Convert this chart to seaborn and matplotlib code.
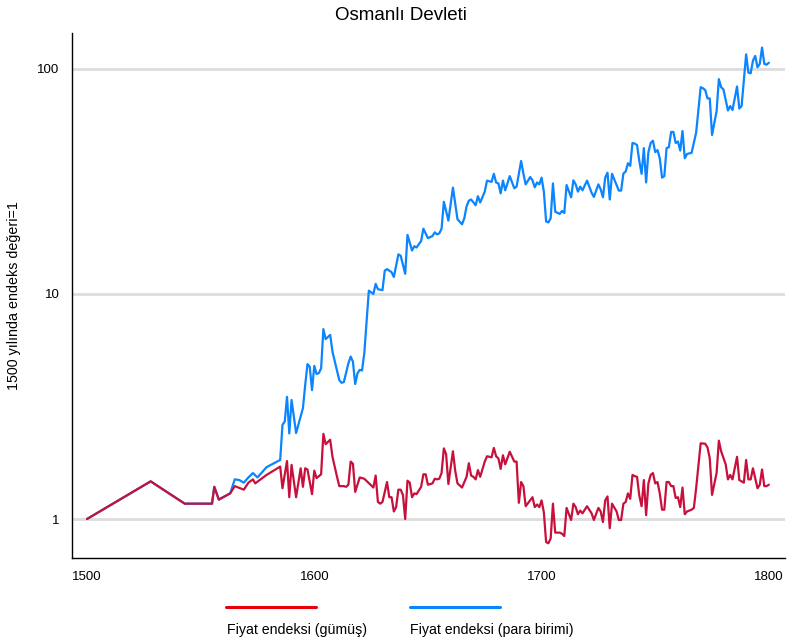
import numpy as np
import pandas as pd
import matplotlib
matplotlib.use("Agg")
import matplotlib.pyplot as plt
from matplotlib.lines import Line2D
from matplotlib.ticker import FixedLocator, NullLocator, FixedFormatter
import seaborn as sns

# Fiyat endeksi (gümüş)
silver_years = [1500, 1528, 1543, 1555, 1556, 1558, 1563, 1565, 1569, 1571, 1573, 1574, 1576, 1579,
                1585, 1586, 1588, 1589, 1590, 1592, 1594, 1595, 1596, 1597, 1599, 1600, 1601, 1603,
                1604, 1605, 1607, 1608, 1610, 1611, 1613, 1614, 1615, 1616, 1617, 1618, 1620, 1622,
                1626, 1627, 1628, 1629, 1630, 1632, 1633, 1634, 1635, 1636, 1637, 1638, 1639, 1640,
                1641, 1642, 1643, 1644, 1645, 1646, 1647, 1648, 1649, 1650, 1652, 1653, 1654, 1655,
                1656, 1657, 1658, 1659, 1661, 1662, 1663, 1665, 1667, 1668, 1669, 1670, 1671, 1672,
                1673, 1675, 1676, 1678, 1679, 1680, 1681, 1682, 1683, 1684, 1686, 1688, 1689, 1690,
                1691, 1692, 1693, 1696, 1697, 1698, 1699, 1700, 1701, 1702, 1703, 1704, 1705, 1706,
                1708, 1709, 1710, 1711, 1713, 1714, 1715, 1716, 1717, 1718, 1720, 1722, 1723, 1725,
                1726, 1727, 1728, 1729, 1730, 1731, 1733, 1734, 1735, 1736, 1737, 1738, 1739, 1740,
                1741, 1742, 1743, 1744, 1745, 1746, 1747, 1748, 1749, 1750, 1751, 1752, 1753, 1754,
                1755, 1756, 1757, 1758, 1759, 1760, 1761, 1762, 1763, 1764, 1766, 1767, 1768, 1770,
                1772, 1773, 1774, 1775, 1777, 1778, 1779, 1781, 1782, 1783, 1784, 1786, 1787, 1789,
                1790, 1791, 1792, 1793, 1795, 1796, 1797, 1798, 1799, 1800]
silver_index = [1.00, 1.47, 1.17, 1.17, 1.39, 1.22, 1.30, 1.40, 1.35, 1.45, 1.50, 1.44, 1.49, 1.57,
                1.71, 1.37, 1.81, 1.25, 1.74, 1.25, 1.68, 1.39, 1.68, 1.66, 1.29, 1.64, 1.52, 1.58,
                2.39, 2.15, 2.25, 1.89, 1.54, 1.40, 1.40, 1.39, 1.42, 1.80, 1.76, 1.32, 1.53, 1.51,
                1.38, 1.56, 1.19, 1.17, 1.19, 1.46, 1.25, 1.25, 1.08, 1.13, 1.35, 1.35, 1.28, 1.00,
                1.48, 1.45, 1.25, 1.30, 1.29, 1.34, 1.39, 1.58, 1.58, 1.42, 1.44, 1.51, 1.50, 1.51,
                1.60, 2.06, 1.94, 1.43, 2.00, 1.64, 1.44, 1.38, 1.54, 1.77, 1.56, 1.54, 1.50, 1.65,
                1.54, 1.80, 1.90, 1.88, 2.07, 1.90, 1.86, 1.67, 1.92, 1.75, 1.99, 1.80, 1.80, 1.18,
                1.46, 1.40, 1.14, 1.25, 1.13, 1.16, 1.13, 1.21, 1.07, 0.79, 0.78, 0.82, 1.17, 0.87,
                0.87, 0.86, 0.84, 1.12, 0.99, 1.17, 1.13, 1.05, 1.09, 1.06, 1.14, 1.06, 0.99, 1.12,
                1.08, 0.97, 1.21, 1.26, 0.91, 1.17, 1.08, 0.99, 0.99, 1.17, 1.19, 1.30, 1.23, 1.57,
                1.55, 1.54, 1.27, 1.14, 1.49, 1.04, 1.44, 1.57, 1.60, 1.44, 1.46, 1.30, 1.10, 1.10,
                1.46, 1.46, 1.40, 1.40, 1.24, 1.25, 1.13, 1.38, 1.05, 1.08, 1.10, 1.12, 1.37, 2.17,
                2.16, 2.08, 1.86, 1.28, 1.60, 2.23, 2.00, 1.75, 1.50, 1.57, 1.50, 1.89, 1.49, 1.45,
                1.83, 1.50, 1.50, 1.68, 1.37, 1.42, 1.66, 1.40, 1.40, 1.42]

# Fiyat endeksi (para birimi)
currency_years = [1500, 1528, 1543, 1555, 1556, 1558, 1563, 1565, 1567, 1569, 1571, 1573, 1575, 1579,
                  1585, 1586, 1587, 1588, 1589, 1590, 1592, 1594, 1595, 1596, 1597, 1598, 1599, 1600,
                  1601, 1602, 1603, 1604, 1605, 1607, 1608, 1611, 1612, 1613, 1615, 1616, 1617, 1618,
                  1619, 1620, 1621, 1622, 1624, 1626, 1627, 1628, 1630, 1631, 1632, 1634, 1635, 1637,
                  1638, 1640, 1641, 1643, 1644, 1645, 1647, 1648, 1650, 1652, 1653, 1654, 1655, 1656,
                  1657, 1659, 1661, 1663, 1665, 1666, 1667, 1668, 1669, 1671, 1672, 1673, 1675, 1676,
                  1678, 1679, 1680, 1681, 1682, 1683, 1684, 1686, 1688, 1689, 1691, 1692, 1693, 1695,
                  1696, 1697, 1698, 1699, 1700, 1701, 1702, 1703, 1704, 1705, 1706, 1708, 1709, 1710,
                  1711, 1713, 1714, 1715, 1716, 1717, 1718, 1720, 1722, 1723, 1725, 1726, 1727, 1728,
                  1729, 1730, 1731, 1733, 1734, 1735, 1736, 1737, 1738, 1739, 1740, 1741, 1742, 1743,
                  1744, 1745, 1746, 1747, 1748, 1749, 1750, 1751, 1752, 1753, 1754, 1755, 1756, 1757,
                  1758, 1759, 1760, 1761, 1762, 1763, 1764, 1766, 1768, 1770, 1771, 1772, 1773, 1774,
                  1775, 1777, 1778, 1779, 1780, 1782, 1783, 1784, 1785, 1786, 1787, 1788, 1790, 1791,
                  1792, 1793, 1794, 1795, 1796, 1797, 1798, 1799, 1800]
currency_index = [1.00, 1.47, 1.17, 1.17, 1.39, 1.22, 1.30, 1.50, 1.49, 1.45, 1.53, 1.60, 1.53, 1.70,
                  1.83, 2.62, 2.71, 3.49, 2.40, 3.38, 2.41, 2.85, 3.11, 3.94, 4.88, 4.75, 3.74, 4.79,
                  4.41, 4.45, 4.67, 6.98, 6.30, 6.58, 5.54, 4.14, 4.03, 4.06, 4.92, 5.27, 5.00, 3.98,
                  4.44, 4.60, 4.57, 5.45, 10.35, 10.0, 11.1, 10.5, 10.4, 12.7, 12.9, 12.5, 11.9, 15.0,
                  14.8, 12.3, 18.3, 15.6, 16.3, 16.1, 17.2, 19.5, 17.7, 18.1, 18.8, 18.4, 18.6, 19.5,
                  25.7, 21.2, 29.7, 21.5, 20.4, 21.7, 24.5, 26.0, 26.3, 24.8, 27.2, 25.5, 28.5, 31.9,
                  31.5, 34.2, 31.3, 31.0, 28.0, 31.9, 28.9, 33.4, 29.5, 30.0, 39.0, 34.3, 30.7, 33.1,
                  32.0, 29.8, 31.3, 30.7, 32.9, 28.5, 21.0, 20.8, 21.7, 31.0, 23.2, 22.7, 23.4, 22.9,
                  30.5, 26.9, 32.0, 30.7, 28.5, 30.0, 28.9, 31.9, 28.2, 27.0, 30.7, 29.2, 26.9, 32.9,
                  34.6, 26.3, 34.2, 30.5, 28.8, 28.8, 34.3, 35.0, 38.1, 37.1, 46.9, 46.6, 45.9, 39.0,
                  34.2, 44.5, 31.3, 42.7, 46.9, 48.0, 42.7, 43.6, 40.1, 32.9, 33.4, 44.5, 44.9, 52.5,
                  52.5, 46.9, 47.6, 43.4, 53.0, 40.1, 41.9, 42.4, 52.1, 83.0, 82.1, 80.5, 74.0, 74.0,
                  50.9, 64.9, 90.1, 83.0, 81.2, 65.4, 68.4, 65.7, 74.0, 83.6, 66.7, 68.4, 116.1, 96.3,
                  95.7, 108.9, 114.3, 101.7, 105.4, 124.5, 105.4, 104.5, 106.6]

x_ticks = [1500, 1600, 1700, 1800]
y_ticks = [1, 10, 100]
y_tick_labels = ["1", "10", "100"]

silver_df = pd.DataFrame({"yil": silver_years, "endeks": silver_index})
currency_df = pd.DataFrame({"yil": currency_years, "endeks": currency_index})

sns.set_style("white")
plt.rcParams["font.family"] = ["Liberation Sans", "DejaVu Sans"]
plt.rcParams["text.color"] = "black"

blue = "#0a84ff"
crimson = "#c8103c"
legend_red = "#e8000b"

fig = plt.figure(figsize=(7.87, 6.41), dpi=100)
ax = fig.add_axes([72 / 787, 1 - 558 / 641, (785 - 72) / 787, (558 - 33) / 641])

sns.lineplot(data=currency_df, x="yil", y="endeks", color=blue, lw=1.6, ax=ax)
sns.lineplot(data=silver_df, x="yil", y="endeks", color=crimson, lw=1.6, ax=ax)

ax.set_yscale("log")
ax.set_ylim(0.671, 144.5)
ax.set_xlim(1493.4, 1807.1)
ax.yaxis.set_major_locator(FixedLocator(y_ticks))
ax.yaxis.set_major_formatter(FixedFormatter(y_tick_labels))
ax.yaxis.set_minor_locator(NullLocator())
ax.set_xticks(x_ticks)
ax.set_xticklabels([str(t) for t in x_ticks])

ax.grid(axis="y", color="#dddddd", lw=2.0)
ax.grid(axis="x", visible=False)
ax.set_axisbelow(True)
for s in ["top", "right"]:
    ax.spines[s].set_visible(False)
for s in ["left", "bottom"]:
    ax.spines[s].set_color("black")
    ax.spines[s].set_linewidth(1.0)
ax.tick_params(axis="both", which="major", direction="out", length=5, width=0.9,
               color="black", labelsize=9.5, labelcolor="black", pad=4)

ax.set_xlabel("")
ax.set_ylabel("1500 yılında endeks değeri=1", fontsize=10.3, labelpad=12, color="black")

# title centred on the figure, as in the original
fig.text(401 / 787, 1 - 15 / 641, "Osmanlı Devleti", fontsize=13.5, ha="center", va="center",
         color="black")

# legend below the plot: line above label
fig.add_artist(Line2D([226 / 787, 316 / 787], [1 - 607 / 641] * 2, color=legend_red, lw=2.2))
fig.add_artist(Line2D([410 / 787, 500 / 787], [1 - 607 / 641] * 2, color=blue, lw=2.2))
fig.text(227 / 787, 1 - 630 / 641, "Fiyat endeksi (gümüş)", fontsize=10.2, va="center", ha="left")
fig.text(410 / 787, 1 - 630 / 641, "Fiyat endeksi (para birimi)", fontsize=10.2, va="center", ha="left")

fig.savefig("out.png", dpi=100)
